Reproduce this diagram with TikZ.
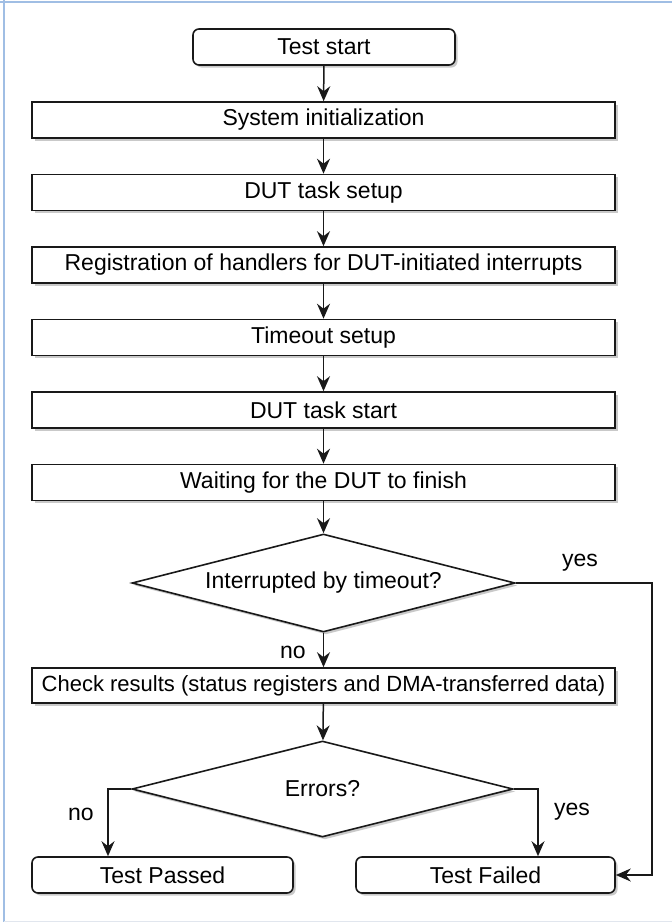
\documentclass[tikz,border=0pt]{standalone}
\usepackage{fontspec}
\setmainfont{Liberation Sans}
\usetikzlibrary{shapes.geometric,arrows.meta,shadows}
\definecolor{framebl}{RGB}{160,190,228}
\definecolor{framegr}{RGB}{225,230,238}
\definecolor{ink}{RGB}{25,25,25}
\tikzset{
  base/.style={draw=ink, line width=1.6pt, fill=white, font=\fontsize{23}{26}\selectfont, inner sep=0pt,
    drop shadow={shadow xshift=2.5pt, shadow yshift=-2.5pt, opacity=0.35, fill=black!60}},
  procbox/.style={base, rectangle, minimum width=583pt, minimum height=36pt},
  termbox/.style={base, rectangle, rounded corners=6pt, minimum height=36pt},
  decbox/.style={base, diamond, aspect=3.9, minimum width=383pt, minimum height=98pt},
  arr/.style={draw=ink, line width=1.5pt, -{Stealth[length=15pt,width=13pt,inset=5pt]}},
  lbl/.style={font=\fontsize{23}{26}\selectfont, inner sep=0pt}
}
\begin{document}
\begin{tikzpicture}[x=1pt,y=-1pt]
\useasboundingbox (0,0) rectangle (672,924);
\fill[white] (0,0) rectangle (672,924);
\draw[framebl, line width=2pt] (0,1.5) -- (672,1.5);
\draw[framebl, line width=1.5pt] (4,0) -- (4,922);
\draw[framegr, line width=1.5pt] (4,921.5) -- (672,921.5);

\node[termbox, minimum width=262pt] (start) at (324,47) {Test start};
\node[procbox] (init) at (323.5,120) {System initialization};
\node[procbox] (setup) at (323.5,192.5) {DUT task setup};
\node[procbox] (reg) at (323.5,265) {Registration of handlers for DUT-initiated interrupts};
\node[procbox] (tout) at (323.5,337.5) {Timeout setup};
\node[procbox] (dstart) at (323.5,410) {DUT task start};
\node[procbox] (wait) at (323.5,482.5) {Waiting for the DUT to finish};
\node[decbox] (d1) at (323.5,583) {Interrupted by timeout?};
\node[procbox, minimum height=35pt, font=\fontsize{22}{25}\selectfont] (check) at (323.5,685.5) {Check results (status registers and DMA-transferred data)};
\node[decbox, minimum width=381pt, minimum height=96pt] (d2) at (322.5,789) {Errors?};
\node[termbox, minimum width=261pt] (passed) at (162.5,875) {Test Passed};
\node[termbox, minimum width=259pt] (failed) at (485.5,875) {Test Failed};

\coordinate (cyes) at (652,583);
\coordinate (cno) at (108,789);
\coordinate (cyes2) at (538,789);

\draw[arr] (start) -- (init);
\draw[arr] (init) -- (setup);
\draw[arr] (setup) -- (reg);
\draw[arr] (reg) -- (tout);
\draw[arr] (tout) -- (dstart);
\draw[arr] (dstart) -- (wait);
\draw[arr] (wait) -- (d1);
\draw[arr] (d1) -- (check);
\draw[arr] (check) -- (d2);
\draw[arr] (d1.east) -- (cyes) |- (failed.east);
\draw[arr] (d2.west) -- (cno) -- (cno |- passed.north);
\draw[arr] (d2.east) -- (cyes2) -- (cyes2 |- failed.north);

\node[lbl] (l1) at (580,563) {yes};
\node[lbl] (l2) at (293,652) {no};
\node[lbl] (l3) at (81,814) {no};
\node[lbl] (l4) at (572,812) {yes};
\end{tikzpicture}
\end{document}
